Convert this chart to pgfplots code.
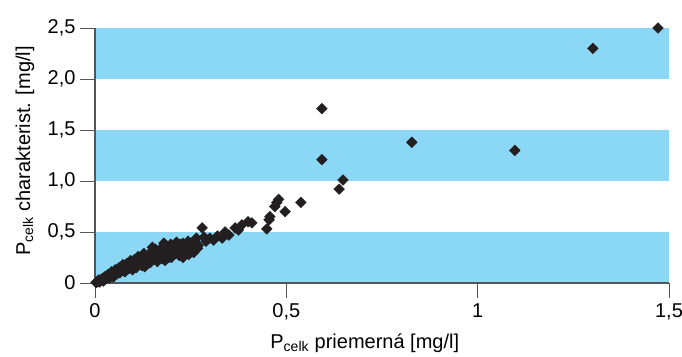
\documentclass[border=0pt]{standalone}
\usepackage{pgfplots}
\pgfplotsset{compat=1.18}
\usepackage{fontspec}
\setmainfont{Liberation Sans}
\definecolor{bandblue}{HTML}{8AD7F6}
\definecolor{markblack}{HTML}{231F20}
\definecolor{axisgrey}{HTML}{555555}

\pgfplotstableread{
x y
0.003 0.005
0.005 0.01
0.008 0.02
0.010 0.03
0.012 0.01
0.015 0.02
0.018 0.04
0.020 0.04
0.022 0.02
0.025 0.06
0.028 0.04
0.030 0.05
0.033 0.08
0.035 0.07
0.038 0.05
0.040 0.09
0.043 0.11
0.045 0.08
0.048 0.06
0.050 0.10
0.050 0.07
0.053 0.13
0.055 0.11
0.058 0.09
0.060 0.13
0.063 0.15
0.065 0.10
0.068 0.12
0.070 0.14
0.073 0.18
0.075 0.16
0.078 0.11
0.080 0.13
0.083 0.19
0.085 0.17
0.088 0.14
0.090 0.20
0.093 0.22
0.095 0.16
0.098 0.13
0.100 0.19
0.103 0.23
0.105 0.21
0.108 0.15
0.110 0.18
0.113 0.26
0.115 0.24
0.118 0.20
0.120 0.21
0.123 0.17
0.125 0.26
0.128 0.29
0.130 0.16
0.133 0.24
0.135 0.22
0.138 0.19
0.140 0.25
0.143 0.28
0.145 0.20
0.148 0.31
0.150 0.35
0.153 0.23
0.155 0.28
0.158 0.33
0.160 0.24
0.163 0.21
0.165 0.31
0.168 0.28
0.170 0.26
0.173 0.34
0.175 0.24
0.178 0.30
0.180 0.39
0.183 0.22
0.185 0.33
0.188 0.36
0.190 0.28
0.193 0.25
0.195 0.32
0.198 0.38
0.200 0.25
0.203 0.30
0.205 0.36
0.208 0.34
0.210 0.29
0.213 0.40
0.215 0.33
0.218 0.31
0.220 0.27
0.223 0.38
0.225 0.35
0.228 0.30
0.230 0.25
0.230 0.39
0.235 0.31
0.238 0.37
0.240 0.34
0.243 0.41
0.245 0.28
0.248 0.33
0.250 0.39
0.255 0.35
0.258 0.30
0.260 0.41
0.265 0.44
0.268 0.34
0.270 0.37
0.280 0.54
0.285 0.45
0.290 0.41
0.300 0.44
0.310 0.42
0.320 0.46
0.332 0.44
0.340 0.50
0.350 0.47
0.366 0.54
0.375 0.52
0.384 0.57
0.400 0.60
0.410 0.59
0.449 0.53
0.455 0.62
0.457 0.65
0.470 0.75
0.475 0.79
0.480 0.82
0.497 0.70
0.538 0.79
0.593 1.21
0.593 1.71
0.638 0.92
0.648 1.01
0.828 1.38
1.097 1.30
1.301 2.30
1.471 2.50
}\pdata

\begin{document}
\begin{tikzpicture}
\begin{axis}[
  at={(0,0)}, anchor=south west,
  scale only axis,
  width=574pt, height=255pt,
  xmin=0, xmax=1.5, ymin=0, ymax=2.5,
  clip=false,
  axis on top,
  axis x line*=bottom, axis y line*=left,
  axis line style={draw=axisgrey, line width=1.1pt},
  xtick align=outside, ytick align=outside,
  major tick style={draw=axisgrey, line width=0.9pt},
  major tick length=15pt,
  xtick={0,0.5,1,1.5},
  xticklabels={0,{0,5},1,{1,5}},
  ytick={0,0.5,1,1.5,2,2.5},
  yticklabels={0,{0,5},{1,0},{1,5},{2,0},{2,5}},
  tick label style={font=\fontsize{20}{22}\selectfont, text=black},
  xticklabel style={yshift=-2pt},
  yticklabel style={xshift=-1pt},
  label style={font=\fontsize{20}{22}\selectfont},
  xlabel={P\textsubscript{celk} priemerná [mg/l]},
  ylabel={P\textsubscript{celk} charakterist. [mg/l]},
  xlabel style={at={(axis description cs:0.470,-0.2549)}, anchor=base},
  ylabel style={at={(axis description cs:-0.1132,0.518)}, anchor=base},
]
  % alternating horizontal bands
  \fill[bandblue] (axis cs:0,0) rectangle (axis cs:1.5,0.5);
  \fill[bandblue] (axis cs:0,1) rectangle (axis cs:1.5,1.5);
  \fill[bandblue] (axis cs:0,2) rectangle (axis cs:1.5,2.5);
  \addplot[only marks, mark=square*, mark size=3.8pt,
           mark options={rotate=45, fill=markblack, draw=markblack}]
    table[x=x, y=y] {\pdata};
\end{axis}
\pgfresetboundingbox
\useasboundingbox (-95pt,-73pt) rectangle (587pt,283pt);
\end{tikzpicture}
\end{document}
